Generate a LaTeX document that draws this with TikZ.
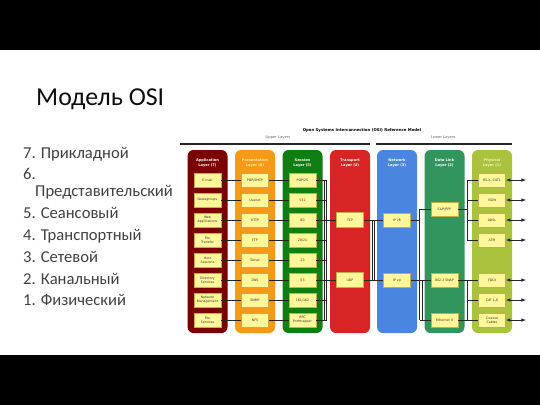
\documentclass[tikz,border=0pt]{standalone}
\usepackage{fontspec}
\setmainfont{Carlito}
\newfontfamily\diagfont{DejaVu Sans}
\usetikzlibrary{positioning}
\definecolor{appred}{HTML}{7A0000}
\definecolor{presorange}{HTML}{F59A16}
\definecolor{sessgreen}{HTML}{0E7D12}
\definecolor{transred}{HTML}{D82424}
\definecolor{netblue}{HTML}{4A86E0}
\definecolor{dlgreen}{HTML}{33955E}
\definecolor{physgreen}{HTML}{A9C43C}
\definecolor{presname}{HTML}{FFE8B0}
\definecolor{physname}{HTML}{F4F4B8}
\definecolor{boxfill}{HTML}{FFF79A}
\definecolor{boxline}{HTML}{C2AE4E}
\definecolor{listgray}{HTML}{404040}
\tikzstyle{proto} = [draw=boxline, fill=boxfill, line width=0.5pt, minimum width=27pt, minimum height=14pt, inner sep=0pt, align=center, font=\diagfont\fontsize{3.2}{3.9}\selectfont, text=black!80]
\tikzstyle{layer} = [rounded corners=6pt]
\tikzstyle{layername} = [align=center, font=\diagfont\bfseries\fontsize{3.6}{4.6}\selectfont]
\tikzstyle{link} = [line width=0.6pt, draw=black!85]
\tikzstyle{item} = [anchor=base west, inner sep=0pt, font=\fontsize{16.6}{18}\selectfont, text=listgray]

\begin{document}
\begin{tikzpicture}[x=1pt,y=-1pt]
	\useasboundingbox (0,0) rectangle (540,405);
	\fill[black] (0,0) rectangle (540,50);
	\fill[black] (0,355) rectangle (540,405);
	% slide text
	\node[anchor=base west, inner sep=0pt, font=\fontsize{25.8}{30}\selectfont, text=black!95] (title) at (36,105.7) {Модель OSI};
	\node[item] (l7) at (23,158) {7. Прикладной};
	\node[item] (l6) at (23,179) {6.};
	\node[item] (l6b) at (35,196) {Представительский};
	\node[item] (l5) at (23,218) {5. Сеансовый};
	\node[item] (l4) at (23,240) {4. Транспортный};
	\node[item] (l3) at (23,262) {3. Сетевой};
	\node[item] (l2) at (23,284) {2. Канальный};
	\node[item] (l1) at (23,305.7) {1. Физический};
	% diagram header
	\node[font=\diagfont\bfseries\fontsize{3.9}{4.5}\selectfont] (osi) at (362,130) {Open Systems Interconnection (OSI) Reference Model};
	\node[font=\diagfont\fontsize{3.7}{4.5}\selectfont, text=black!60] (upper) at (278,137.5) {Upper Layers};
	\node[font=\diagfont\fontsize{3.7}{4.5}\selectfont, text=black!60] (lower) at (443,137.5) {Lower Layers};
	\draw[line width=1.4pt, black!85] (180,144) -- (370,144);
	\draw[line width=1.4pt, black!85] (376,144) -- (512,144);
	% layer columns
	\foreach \c/\col/\name/\tc [count=\k] in {207.5/appred/{Application\\Layer (7)}/white, 255/presorange/{Presentation\\Layer (6)}/presname, 302.5/sessgreen/{Session\\Layer (5)}/white, 350/transred/{Transport\\Layer (4)}/white, 397/netblue/{Network\\Layer (3)}/white, 444.5/dlgreen/{Data Link\\Layer (2)}/white, 492/physgreen/{Physical\\Layer (1)}/physname}
	{
		\fill[\col, layer] (\c-20,150) rectangle (\c+20,333);
		\node[layername, text=\tc] (h\k) at (\c,163) {\name};
	}
	% upper layer protocols
	\foreach \t [count=\i from 0] in {E-mail, Newsgroups, {Web\\Applications}, {File\\Transfer}, {Host\\Sessions}, {Directory\\Services}, {Network\\Management}, {File\\Services}}
	\node[proto] (a\i) at (207.5,180+20*\i) {\t};
	\foreach \t [count=\i from 0] in {POP/SMTP, Usenet, HTTP, FTP, Telnet, DNS, SNMP, NFS}
	\node[proto] (p\i) at (255,180+20*\i) {\t};
	\foreach \t [count=\i from 0] in {POP/25, 532, 80, 20/21, 23, 53, 161/162, {RPC\\Portmapper}}
	\node[proto] (s\i) at (302.5,180+20*\i) {\t};
	\node[proto, minimum height=15pt] (tcp) at (350,220) {TCP};
	\node[proto, minimum height=15pt] (udp) at (350,280) {UDP};
	\node[proto] (ipv6) at (397,220) {IP v6};
	\node[proto] (ipv4) at (397,280) {IP v4};
	\node[proto] (slip) at (444.5,209) {SLIP/PPP};
	\node[proto] (snap) at (444.5,280) {802.3 SNAP};
	\node[proto] (eth) at (444.5,320) {Ethernet II};
	\foreach \t/\r in {{RS-X, CAT1}/0, ISDN/1, ADSL/2, ATM/3, FDDI/5, CAT 1-6/6, {Coaxial\\Cables}/7}
	\node[proto] (ph\r) at (492,180+20*\r) {\t};
	% bus lines
	\coordinate (busT) at (324,0);
	\coordinate (busU) at (326.5,0);
	\coordinate (xT) at (372,0);
	\coordinate (xU) at (374.5,0);
	\coordinate (dlA) at (419.5,0);
	\coordinate (dlB) at (422,0);
	\coordinate (phA) at (467,0);
	\coordinate (edge) at (526,0);
	\foreach \i in {0,...,7}
	{
		\draw[link] (a\i) -- (p\i);
		\draw[link] (p\i) -- (s\i);
		\draw[link] (s\i.east) -- (busU |- s\i.east);
	}
	\draw[link] (busT |- s0.east) -- (busT |- s7.east);
	\draw[link] (busU |- s0.east) -- (busU |- s7.east);
	\draw[link] (busT |- tcp.west) -- (tcp.west);
	\draw[link] (busU |- udp.west) -- (udp.west);
	\draw[link] (tcp) -- (ipv6);
	\draw[link] (udp) -- (ipv4);
	\draw[link] (xT |- tcp) -- (xT |- udp);
	\draw[link] (xU |- tcp) -- (xU |- udp);
	\draw[link] (ipv6.east) -- (dlA |- ipv6.east);
	\draw[link] (dlA |- slip) -- (dlA |- eth);
	\draw[link] (dlA |- slip) -- (slip.west);
	\draw[link] (dlA |- eth) -- (eth.west);
	\draw[link] (ipv4) -- (snap);
	\draw[link] (dlB |- ipv4) -- (dlB |- eth);
	\draw[link] (slip.east) -- (phA |- slip);
	\draw[link] (phA |- ph0) -- (phA |- ph3);
	\foreach \r in {0,...,3}
	\draw[link] (phA |- ph\r) -- (ph\r.west);
	\draw[link] (snap) -- (ph5);
	\draw[link] (phA |- ph5) -- (phA |- ph7);
	\foreach \r in {6,7}
	\draw[link] (phA |- ph\r) -- (ph\r.west);
	\draw[link] (eth) -- (ph7);
	\foreach \r in {0,1,2,3,5,6,7}
	\draw[link, <->, >=latex] (ph\r.east) -- (edge |- ph\r);
\end{tikzpicture}
\end{document}
